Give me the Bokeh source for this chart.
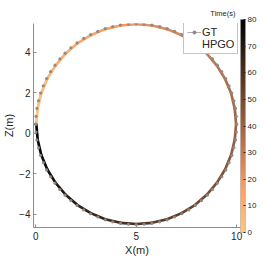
from bokeh.plotting import figure
from bokeh.models import (Range1d, LinearColorMapper, ColorBar, FixedTicker,
                          Legend, LegendItem, ColumnDataSource, Title)
from bokeh.embed import file_html
from bokeh.resources import INLINE

# ---------------- data ----------------
gt_t = list(range(0, 81))
gt_x = [0.00, 0.02, 0.06, 0.14, 0.24, 0.38, 0.54, 0.74, 0.96, 1.20,
        1.46, 1.75, 2.06, 2.39, 2.73, 3.09, 3.46, 3.83, 4.22, 4.61,
        5.00, 5.39, 5.78, 6.17, 6.54, 6.91, 7.27, 7.61, 7.94, 8.25,
        8.54, 8.80, 9.04, 9.26, 9.46, 9.62, 9.76, 9.86, 9.94, 9.98,
        10.00, 9.98, 9.94, 9.86, 9.76, 9.62, 9.46, 9.26, 9.04, 8.80,
        8.54, 8.25, 7.94, 7.61, 7.27, 6.91, 6.54, 6.17, 5.78, 5.39,
        5.00, 4.61, 4.22, 3.83, 3.46, 3.09, 2.73, 2.39, 2.06, 1.75,
        1.46, 1.20, 0.96, 0.74, 0.54, 0.38, 0.24, 0.14, 0.06, 0.02,
        0.00]
gt_z = [0.45, 0.84, 1.23, 1.61, 1.99, 2.35, 2.71, 3.05, 3.37, 3.68,
        3.96, 4.23, 4.47, 4.69, 4.88, 5.04, 5.18, 5.28, 5.36, 5.40,
        5.42, 5.40, 5.36, 5.28, 5.18, 5.04, 4.88, 4.69, 4.47, 4.23,
        3.96, 3.68, 3.37, 3.05, 2.71, 2.35, 1.99, 1.61, 1.23, 0.84,
        0.45, 0.06, -0.33, -0.71, -1.09, -1.45, -1.81, -2.15, -2.47, -2.78,
        -3.06, -3.33, -3.57, -3.79, -3.98, -4.14, -4.28, -4.38, -4.46, -4.50,
        -4.52, -4.50, -4.46, -4.38, -4.28, -4.14, -3.98, -3.79, -3.57, -3.33,
        -3.06, -2.78, -2.47, -2.15, -1.81, -1.45, -1.09, -0.71, -0.33, 0.06,
        0.45]

hpgo_t = list(range(0, 81, 2))
hpgo_x = [0.03, 0.10, 0.28, 0.58, 0.99, 1.49, 2.08, 2.74, 3.46, 4.22,
          5.00, 5.78, 6.54, 7.26, 7.92, 8.51, 9.01, 9.42, 9.72, 9.90,
          9.97, 9.90, 9.72, 9.42, 9.01, 8.51, 7.92, 7.26, 6.54, 5.78,
          5.00, 4.22, 3.46, 2.74, 2.08, 1.49, 0.99, 0.58, 0.28, 0.10,
          0.03]
hpgo_z = [0.45, 1.22, 1.98, 2.69, 3.35, 3.94, 4.45, 4.85, 5.15, 5.33,
          5.39, 5.33, 5.15, 4.85, 4.45, 3.94, 3.35, 2.69, 1.98, 1.22,
          0.45, -0.32, -1.08, -1.79, -2.45, -3.04, -3.55, -3.95, -4.25, -4.43,
          -4.49, -4.43, -4.25, -3.95, -3.55, -3.04, -2.45, -1.79, -1.08, -0.32,
          0.45]

x_ticks = [0, 5, 10]
z_ticks = [-4, -2, 0, 2, 4]
time_ticks = [0, 10, 20, 30, 40, 50, 60, 70, 80]
time_low, time_high = 0, 80

# ---------------- style ----------------
FONT = "Liberation Sans"
AXIS_COL = "#8c8c8c"
TEXT_COL = "#262626"

# reversed "copper" colormap (light orange -> black)
palette = []
for i in range(256):
    f = 1 - i / 255
    r = min(1.0, 1.25 * f)
    g = 0.7812 * f
    b = 0.4975 * f
    palette.append("#%02x%02x%02x" % (round(r * 255), round(g * 255), round(b * 255)))
mapper = LinearColorMapper(palette=palette, low=time_low, high=time_high)

p = figure(frame_width=207, frame_height=204, output_backend="svg",
           toolbar_location=None,
           x_range=Range1d(-0.11, 10.19), y_range=Range1d(-4.66, 5.43),
           min_border_left=27, min_border_right=0, min_border_top=17,
           min_border_bottom=29)
p.outline_line_color = None
p.grid.visible = False
p.background_fill_color = "white"

for ax in (p.xaxis[0], p.yaxis[0]):
    ax.axis_line_color = AXIS_COL
    ax.axis_line_width = 1
    ax.major_tick_line_color = AXIS_COL
    ax.major_tick_in = 3
    ax.major_tick_out = 0
    ax.minor_tick_line_color = None
    ax.major_label_text_font = FONT
    ax.major_label_text_font_size = "10px"
    ax.major_label_text_color = TEXT_COL
    ax.axis_label_text_font = FONT
    ax.axis_label_text_font_size = "11px"
    ax.axis_label_text_font_style = "normal"
    ax.axis_label_text_color = TEXT_COL
p.xaxis.ticker = FixedTicker(ticks=x_ticks)
p.yaxis.ticker = FixedTicker(ticks=z_ticks)
p.xaxis.axis_label = "X(m)"
p.yaxis.axis_label = "Z(m)"
p.xaxis.major_label_standoff = 4
p.xaxis.axis_label_standoff = 1
p.yaxis.major_label_standoff = 3
p.yaxis.axis_label_standoff = 1

# GT line (under)
gt_src = ColumnDataSource(dict(x=gt_x, z=gt_z, t=gt_t))
gt_line = p.line("x", "z", source=gt_src, line_color="#9a9a9a", line_width=0.8)

# HPGO coloured by time
seg_src = ColumnDataSource(dict(
    x0=hpgo_x[:-1], y0=hpgo_z[:-1], x1=hpgo_x[1:], y1=hpgo_z[1:],
    t=[(a + b) / 2 for a, b in zip(hpgo_t[:-1], hpgo_t[1:])]))
p.segment("x0", "y0", "x1", "y1", source=seg_src,
          line_color={"field": "t", "transform": mapper},
          line_width=2.6, line_cap="round")
hpgo_leg = p.line([], [], line_color="#B86A40", line_width=1.5)

# GT markers (on top)
gt_pts = p.scatter("x", "z", source=gt_src, size=3.2, marker="circle",
                   fill_color="#8a8a8a", line_color=None, fill_alpha=0.95)

legend = Legend(items=[LegendItem(label="GT", renderers=[gt_line, gt_pts]),
                       LegendItem(label="HPGO", renderers=[hpgo_leg])],
                location=(150, 173), orientation="vertical",
                glyph_width=14, glyph_height=10, label_standoff=1,
                padding=3, spacing=0, margin=0, label_height=12,
                label_text_font=FONT, label_text_font_size="11px",
                label_text_color=TEXT_COL,
                border_line_color="#8c8c8c", border_line_width=1,
                background_fill_color="white", background_fill_alpha=1)
p.add_layout(legend, "center")

cb = ColorBar(color_mapper=mapper, ticker=FixedTicker(ticks=time_ticks),
              width=5, height=213, location=(0, -5), padding=0, margin=0,
              orientation="vertical",
              major_label_text_font=FONT, major_label_text_font_size="8px",
              major_label_text_color=TEXT_COL, label_standoff=2,
              major_tick_line_color=TEXT_COL, major_tick_in=2, major_tick_out=0,
              bar_line_color="#a0a0a0", bar_line_width=0.5,
              background_fill_alpha=0, border_line_color=None)
p.add_layout(cb, "right")

p.add_layout(Title(text="Time(s)", align="right", offset=5, standoff=12,
                   text_font=FONT, text_font_size="7.5px",
                   text_font_style="normal", text_color=TEXT_COL), "above")

open("out.html", "w").write(file_html(p, INLINE))
